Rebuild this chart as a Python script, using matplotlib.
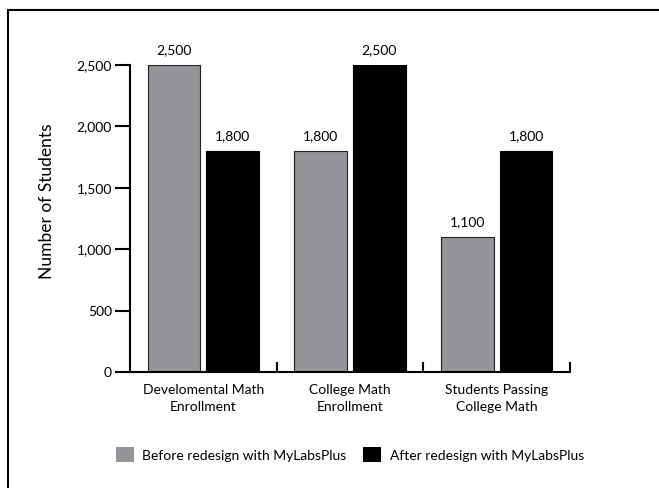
import matplotlib.pyplot as plt
from matplotlib.patches import Rectangle

plt.rcParams['font.family'] = ['Lato', 'DejaVu Sans']

categories = ['Develomental Math\nEnrollment', 'College Math\nEnrollment', 'Students Passing\nCollege Math']
before = [2500, 1800, 1100]
after = [1800, 2500, 1800]
series_names = ['Before redesign with MyLabsPlus', 'After redesign with MyLabsPlus']
yticks = [0, 500, 1000, 1500, 2000, 2500]

W, H = 659, 488
fig = plt.figure(figsize=(W / 100, H / 100), dpi=100)
ax = fig.add_axes([130 / W, 116 / H, 440 / W, 307 / H])

# outer frame (only top/left visible in the original crop)
fig.patches.append(Rectangle((8 / W, -0.1), 1.2, (H - 10) / H + 0.1, transform=fig.transFigure,
                             fill=False, edgecolor='black', linewidth=1.5))

x = range(len(categories))
w = 0.36
b1 = ax.bar([i - 0.2 for i in x], before, w, color='#939598', edgecolor='#222222', linewidth=0.8)
b2 = ax.bar([i + 0.2 for i in x], after, w, color='black', edgecolor='black', linewidth=0.8)

for bars, vals in ((b1, before), (b2, after)):
    for r, v in zip(bars, vals):
        ax.text(r.get_x() + r.get_width() / 2, v + 70, f'{v:,}', ha='center', va='bottom',
                fontsize=10)

ax.set_xlim(-0.5, 2.5)
ax.set_ylim(0, 2500)
ax.set_yticks(yticks)
ax.set_yticklabels([f'{v:,}' for v in yticks], fontsize=10)
ax.tick_params(axis='y', direction='out', length=11, width=1.5, pad=2)

ax.set_xticks(list(x))
ax.set_xticklabels(categories, fontsize=10, linespacing=1.45)
ax.tick_params(axis='x', which='major', length=0, pad=9)
ax.set_xticks([0.5, 1.5, 2.5], minor=True)
ax.tick_params(axis='x', which='minor', direction='in', length=7, width=1.5)

for s in ('top', 'right'):
    ax.spines[s].set_visible(False)
for s in ('left', 'bottom'):
    ax.spines[s].set_linewidth(1.5)

fig.text(47 / W, 1 - 201 / H, 'Number of Students', rotation=90, ha='center', va='center',
         fontsize=12.5)

leg = ax.legend([b1, b2], series_names, loc='center', bbox_to_anchor=(0.5, -0.27), ncol=2,
                frameon=False, fontsize=10, handlelength=1.3, handleheight=1.3,
                handletextpad=0.6, columnspacing=1.2)
for h in leg.legend_handles:
    h.set_edgecolor('none')

fig.savefig('out.png', dpi=100)
